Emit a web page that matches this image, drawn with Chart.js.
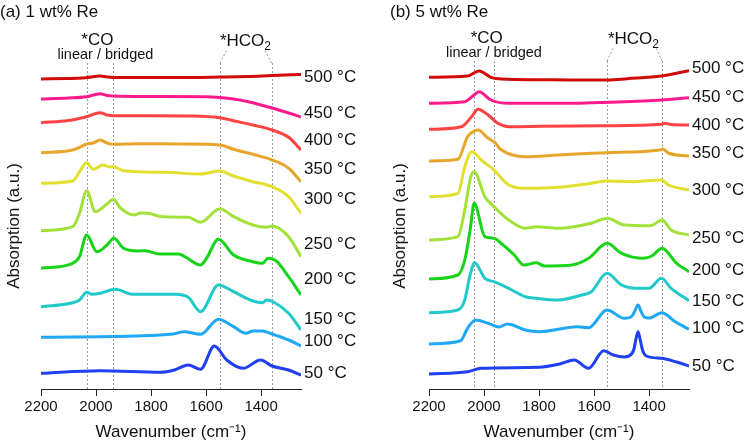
<!DOCTYPE html>
<html>
<head>
<meta charset="utf-8">
<script src="https://cdn.jsdelivr.net/npm/chart.js@4"></script>
<style>
html, body { margin: 0; padding: 0; background: #fff; }
#wrap { position: relative; width: 750px; height: 447px; }
canvas { position: absolute; top: 0; }
</style>
</head>
<body>
<div id="wrap">
  <canvas id="chartA" width="375" height="447" style="left:0"></canvas>
  <canvas id="chartB" width="375" height="447" style="left:375px"></canvas>
</div>
<script>
// spectra: [wavenumber, stacked absorption (a.u.)]
const temps = ['500 °C', '450 °C', '400 °C', '350 °C', '300 °C', '250 °C', '200 °C', '150 °C', '100 °C', '50 °C'];
const colors = ['#d10a0a', '#ff1a8c', '#ff4242', '#e8a52c', '#e2df2e', '#a2e238', '#18d418', '#22c9c9', '#1ea8f5', '#1f3ff0'];
const xTicks = [2200, 2000, 1800, 1600, 1400];

// (a) 1 wt% Re
const a500 = [[2200,310],[2100,310.5],[2050,311],[2034,311.5],[1985,313],[1960,312],[1938,311.5],[1800,311.5],[1700,311.5],[1550,312],[1450,312.5],[1360,313.5],[1255,314.5]];
const a450 = [[2200,290],[2100,291],[2034,292.3],[1985,295.3],[1960,293.5],[1938,293],[1800,292.5],[1600,292.3],[1550,291.5],[1500,290],[1450,287.5],[1400,284],[1360,281],[1300,276],[1255,272]];
const a400 = [[2200,266.3],[2100,268.5],[2034,272.3],[1985,276.3],[1960,274],[1938,273.3],[1800,273.3],[1650,273],[1550,271.3],[1500,268.3],[1430,264],[1360,259],[1300,251.7],[1255,239]];
const a350 = [[2200,236.3],[2085,239],[2050,243],[2034,245],[2010,246],[1985,249],[1960,246],[1938,244.7],[1850,245.3],[1700,245],[1550,244],[1500,239.7],[1430,234.7],[1360,229],[1300,220.7],[1255,207.3]];
const a300 = [[2200,205.7],[2085,208],[2060,217.3],[2034,226.3],[2010,219.7],[1975,224],[1950,222],[1938,222.3],[1900,218.3],[1750,216.7],[1620,215],[1550,218],[1500,213],[1430,207.3],[1360,202.3],[1300,192.3],[1255,175.7]];
const a250 = [[2200,158.3],[2085,162.3],[2060,175.7],[2034,198.3],[2003,177.3],[1960,185],[1938,189.7],[1910,180.7],[1860,174],[1840,176],[1810,175.7],[1760,172.3],[1665,171.7],[1620,166.7],[1550,180.3],[1500,172.3],[1430,164],[1380,161.7],[1360,163],[1300,152.3],[1255,132.3]];
const a200 = [[2200,120.7],[2085,125.7],[2060,132.3],[2034,154],[1997,137.3],[1960,144],[1935,150.7],[1900,140.7],[1850,138],[1820,138.3],[1770,135],[1700,135],[1675,132],[1620,124],[1600,130],[1555,149.7],[1500,134],[1430,127.3],[1395,125.7],[1375,130.7],[1345,128],[1300,112.3],[1255,94]];
const a150 = [[2200,82.3],[2085,86.3],[2060,89],[2034,96.7],[2015,94.7],[1985,95.7],[1930,99.7],[1865,94.7],[1800,94.7],[1715,94.7],[1665,91.7],[1620,77.3],[1555,104],[1500,97.3],[1430,88],[1395,86.3],[1380,89],[1355,87],[1300,75.7],[1255,59]];
const a100 = [[2200,51.7],[1865,53],[1720,55],[1680,57.3],[1620,54.7],[1555,69.7],[1500,62.3],[1455,55.7],[1430,58],[1395,58],[1360,55],[1300,49],[1255,43]];
const a50 = [[2200,15.7],[1985,18.3],[1765,16.7],[1715,19],[1665,24],[1620,19.7],[1570,43],[1525,29],[1465,20.7],[1402,29],[1360,23],[1300,19],[1255,14]];

// (b) 5 wt% Re
const b500 = [[2200,311.7],[2060,313],[2018,318],[1975,311.7],[1935,310],[1800,309.3],[1680,309],[1550,309],[1480,310.3],[1355,313],[1255,318.3]];
const b450 = [[2200,285.7],[2070,287.3],[2045,292],[2018,297.3],[1975,289],[1910,285.7],[1670,285.7],[1550,286.7],[1355,289],[1255,291.3]];
const b400 = [[2200,259.7],[2082,262.3],[2045,272.3],[2022,279.7],[1985,274],[1950,265.7],[1910,262.3],[1790,262.7],[1553,263.3],[1355,264.7],[1345,265.7],[1320,264.5],[1255,264]];
const b350 = [[2200,228],[2095,229.7],[2060,252.3],[2048,255.7],[2022,259],[1985,250.7],[1960,246.3],[1940,239.7],[1850,232.3],[1730,234],[1553,236.3],[1360,239],[1350,240],[1330,236],[1255,233]];
const b300 = [[2200,192.3],[2095,195.7],[2070,222.3],[2045,237.3],[2010,229],[1964,219],[1910,204],[1850,200.7],[1730,201.7],[1610,205.7],[1553,208],[1460,207.3],[1355,209],[1330,204],[1255,199]];
const b250 = [[2200,149],[2095,152.3],[2070,179],[2048,212.3],[2036,217.3],[1997,192.3],[1964,182.3],[1910,169],[1850,160.7],[1810,162.3],[1730,160.7],[1610,165.7],[1553,170.7],[1490,164],[1395,163.3],[1353,169],[1320,159],[1255,154]];
const b200 = [[2200,110],[2095,114],[2070,129],[2050,160],[2036,185.7],[1997,152.3],[1964,150.7],[1935,145],[1890,134],[1855,124],[1810,126.3],[1780,123],[1680,124],[1620,130.7],[1553,145.7],[1500,135.7],[1420,130.7],[1390,133],[1353,140.7],[1300,125.7],[1255,117.3]];
const b150 = [[2200,76.3],[2095,79],[2070,89],[2052,112.3],[2034,126.3],[1997,110.7],[1964,107.3],[1910,100.7],[1850,92.3],[1810,90.7],[1730,89],[1645,94],[1610,97.3],[1553,115.7],[1500,104],[1450,100.7],[1400,100.7],[1355,110.7],[1320,100.7],[1255,88.3]];
const b100 = [[2200,45],[2085,48.3],[2060,60.7],[2030,69],[1985,65.7],[1945,62],[1915,65],[1850,59],[1800,57.3],[1660,62.3],[1620,61.3],[1553,79],[1490,70.7],[1462,73],[1452,78],[1440,84],[1430,78],[1418,72],[1400,71],[1353,76.3],[1305,67.3],[1255,59.7]];
const b50 = [[2200,15],[2060,17.3],[2010,20.7],[1800,21.7],[1725,25],[1672,29],[1620,20.7],[1565,38.3],[1530,34],[1490,32],[1464,35],[1455,40],[1447,51],[1440,57.3],[1433,50],[1424,39],[1410,33],[1355,30.7],[1300,27],[1255,23]];

const seriesA = [a500, a450, a400, a350, a300, a250, a200, a150, a100, a50];
const seriesB = [b500, b450, b400, b350, b300, b250, b200, b150, b100, b50];

// marker wavenumbers for the dashed guide lines
const guideA = [2034, 1938, 1550, 1362];
const guideB = [2036, 1964, 1553, 1353];

const FONT = "'Liberation Sans', Arial, sans-serif";

// dashed guides, brackets, annotations, temperature labels
const decoPlugin = {
  id: 'deco',
  beforeDatasetsDraw(chart, args, o) {
    const ctx = chart.ctx, x = chart.scales.x, area = chart.chartArea;
    ctx.save();
    ctx.strokeStyle = '#999';
    ctx.lineWidth = 1;
    ctx.setLineDash([2, 2]);
    o.guides.forEach(w => {
      const px = Math.round(x.getPixelForValue(w)) + 0.5;
      ctx.beginPath(); ctx.moveTo(px, o.guideTop); ctx.lineTo(px, area.bottom); ctx.stroke();
    });
    const l = x.getPixelForValue(o.guides[2]), r = x.getPixelForValue(o.guides[3]);
    ctx.beginPath();
    ctx.moveTo(l, o.guideTop); ctx.lineTo(l + o.bracket, o.bracketTop);
    ctx.moveTo(r, o.guideTop); ctx.lineTo(r - o.bracket, o.bracketTop);
    ctx.stroke();
    ctx.restore();
  },
  afterDraw(chart, args, o) {
    const ctx = chart.ctx, x = chart.scales.x, y = chart.scales.y, area = chart.chartArea;
    ctx.save();
    ctx.fillStyle = '#111';
    ctx.textBaseline = 'middle';
    ctx.font = '17px ' + FONT;
    ctx.textAlign = 'left';
    ctx.fillText(o.title, o.titleX, 12);
    ctx.textAlign = 'center';
    ctx.fillText('*CO', x.getPixelForValue(o.coAt), o.coY);
    ctx.font = '14.5px ' + FONT;
    ctx.fillText('linear / bridged', x.getPixelForValue(o.lbAt), o.coY + 15);
    // *HCO2 with subscript
    ctx.font = '17px ' + FONT;
    const main = '*HCO', wMain = ctx.measureText(main).width;
    ctx.font = '12px ' + FONT;
    const wSub = ctx.measureText('2').width;
    const hx = x.getPixelForValue(o.hcoAt) - (wMain + wSub) / 2;
    ctx.textAlign = 'left';
    ctx.font = '17px ' + FONT;
    ctx.fillText(main, hx, o.coY + 1);
    ctx.font = '12px ' + FONT;
    ctx.fillText('2', hx + wMain, o.coY + 7);
    // temperature labels
    ctx.font = '17px ' + FONT;
    temps.forEach((t, i) => ctx.fillText(t, area.right + o.labelGap, y.getPixelForValue(o.labelAt[i])));
    // y title
    ctx.translate(o.yTitleX, (area.top + area.bottom) / 2 + 2);
    ctx.rotate(-Math.PI / 2);
    ctx.textAlign = 'center';
    ctx.fillText('Absorption (a.u.)', 0, 0);
    ctx.restore();
  }
};

function makeChart(id, series, pad, opts) {
  return new Chart(document.getElementById(id), {
    type: 'line',
    data: {
      datasets: series.map((s, i) => ({
        label: temps[i],
        data: s.map(p => ({ x: p[0], y: p[1] })),
        borderColor: colors[i],
        borderWidth: 3,
        pointRadius: 0,
        cubicInterpolationMode: 'monotone',
        fill: false
      }))
    },
    options: {
      responsive: false,
      animation: false,
      devicePixelRatio: 1,
      layout: { padding: pad },
      plugins: { legend: { display: false }, tooltip: { enabled: false }, deco: opts },
      scales: {
        x: {
          type: 'linear', reverse: true, min: 1255, max: 2200,
          afterBuildTicks: s => { s.ticks = xTicks.map(v => ({ value: v })); },
          afterFit: s => { s.height = 58; },
          grid: { drawOnChartArea: false, drawTicks: true, tickLength: 7, color: '#222' },
          border: { display: true, color: '#222', width: 1 },
          ticks: { color: '#111', font: { family: FONT, size: 15 }, padding: 2, maxRotation: 0, callback: v => String(v) },
          title: { display: true, text: 'Wavenumber (cm⁻¹)', color: '#111', font: { family: FONT, size: 17 }, padding: { top: 2, bottom: 4 } }
        },
        y: { display: false, min: 0, max: 330 }
      }
    },
    plugins: [decoPlugin]
  });
}

makeChart('chartA', seriesA, { left: 41, right: 74, top: 59, bottom: 0 }, {
  title: '(a) 1 wt% Re', titleX: 0, guides: guideA, guideTop: 63, bracketTop: 50, bracket: 7,
  coAt: 1995, lbAt: 1966, hcoAt: 1457, coY: 40,
  labelAt: [312, 276, 249, 220, 190, 145, 110, 70, 48, 16], labelGap: 3, yTitleX: 14
});
makeChart('chartB', seriesB, { left: 54, right: 61, top: 59, bottom: 0 }, {
  title: '(b) 5 wt% Re', titleX: 15, guides: guideB, guideTop: 61, bracketTop: 48, bracket: 6,
  coAt: 1990, lbAt: 1964, hcoAt: 1457, coY: 38,
  labelAt: [321, 292, 264, 236, 199, 151, 119, 88, 61, 23], labelGap: 3, yTitleX: 25
});
</script>
</body>
</html>
